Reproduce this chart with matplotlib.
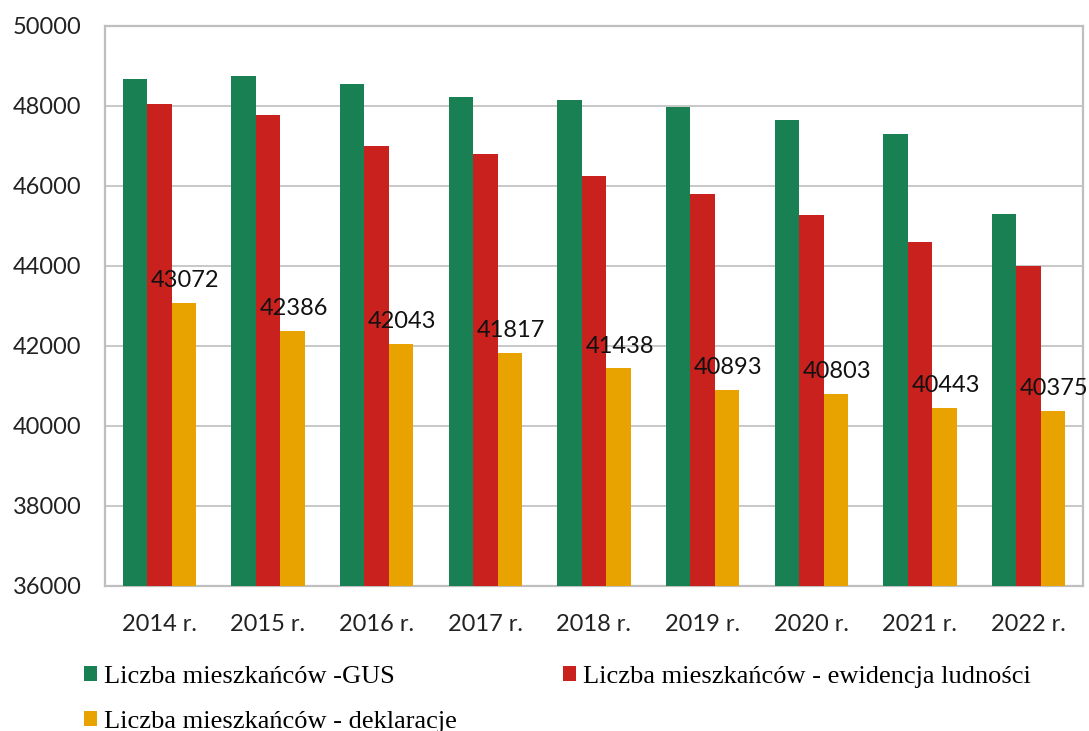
import matplotlib
matplotlib.use("Agg")
import matplotlib.pyplot as plt
import numpy as np

years = ["2014 r.", "2015 r.", "2016 r.", "2017 r.", "2018 r.", "2019 r.", "2020 r.", "2021 r.", "2022 r."]
gus = [48680, 48745, 48545, 48225, 48160, 47980, 47655, 47305, 45290]
ewidencja = [48045, 47785, 47010, 46790, 46245, 45800, 45265, 44590, 43990]
deklaracje = [43072, 42386, 42043, 41817, 41438, 40893, 40803, 40443, 40375]

labels = ["Liczba mieszkańców -GUS",
          "Liczba mieszkańców - ewidencja ludności",
          "Liczba mieszkańców - deklaracje"]
colors = ["#188053", "#C9211E", "#E8A300"]

fig = plt.figure(figsize=(10.89, 7.31), dpi=100)
ax = fig.add_axes([105/1089, 1 - 586/731, (1083-105)/1089, (586-26)/731])

x = np.arange(len(years))
w = 0.224
b1 = ax.bar(x - w, gus, w, color=colors[0], label=labels[0], zorder=3)
b2 = ax.bar(x, ewidencja, w, color=colors[1], label=labels[1], zorder=3)
b3 = ax.bar(x + w, deklaracje, w, color=colors[2], label=labels[2], zorder=3)

tick_font = "Lato"
for xi, v in zip(x, deklaracje):
    ax.annotate(str(v), xy=(xi - w / 2, v), xytext=(2.5, 11.5), textcoords="offset points",
                ha="left", va="baseline", fontsize=17, family=tick_font, color="#111111", zorder=4)

ax.set_ylim(36000, 50000)
ax.set_xlim(-0.5, len(years) - 0.5)
ax.set_yticks(np.arange(36000, 50001, 2000))
ax.set_yticklabels([str(v) for v in range(36000, 50001, 2000)], family=tick_font, fontsize=17)
ax.set_xticks(x)
ax.set_xticklabels(years, family=tick_font, fontsize=17)
ax.tick_params(axis="both", length=0, colors="#222222")
ax.tick_params(axis="y", pad=17)
ax.tick_params(axis="x", pad=20)
ax.yaxis.grid(True, color="#C4C4C4", linewidth=1.3, zorder=0)
ax.set_axisbelow(True)
for s in ax.spines.values():
    s.set_color("#BFBFBF")
    s.set_linewidth(1.6)

handles = [b1, b3, b2]
hl = [labels[0], labels[2], labels[1]]
fig.legend(handles, hl, ncol=2, loc="upper left", bbox_to_anchor=(84/1089, 1 - 666/731),
           frameon=False, borderpad=0, borderaxespad=0, handlelength=0.5, handleheight=0.5,
           handletextpad=0.27, columnspacing=4.0, labelspacing=0.87,
           prop={"family": "Liberation Serif", "size": 19})

fig.savefig("out.png", dpi=100)
